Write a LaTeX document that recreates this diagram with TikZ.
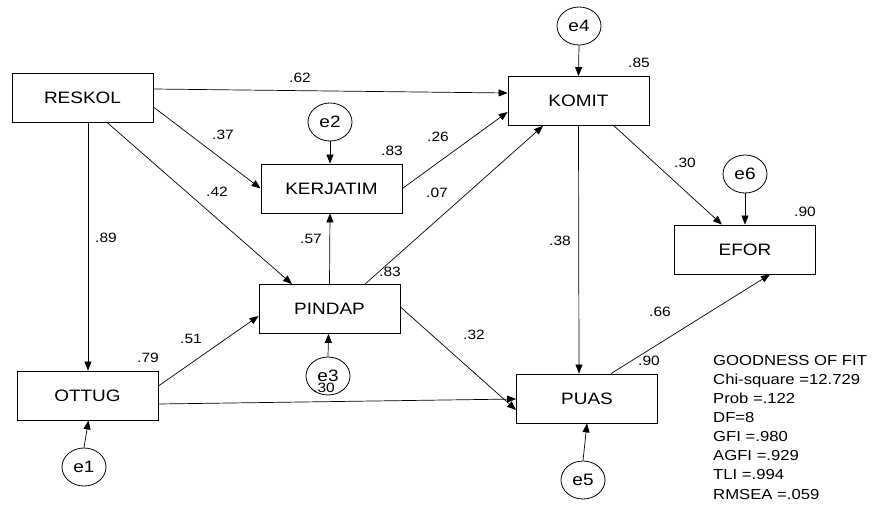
\documentclass[tikz,border=0pt]{standalone}
\usepackage{fontspec}
\setmainfont{Liberation Sans}[FakeStretch=1.15]
\usetikzlibrary{arrows.meta,shapes.geometric,calc}
\begin{document}
\begin{tikzpicture}[x=1pt,y=-1pt,
  var/.style={draw,line width=0.8pt,minimum width=141pt,minimum height=49pt,inner sep=0pt,font=\fontsize{16.5}{19}\selectfont},
  err/.style={draw,ellipse,line width=0.8pt,minimum width=44pt,minimum height=38pt,inner sep=0pt,font=\fontsize{16.5}{19}\selectfont},
  path/.style={line width=0.7pt,-{Triangle[length=9pt,width=7pt]}},
  coef/.style={inner sep=0pt,font=\fontsize{13.5}{15}\selectfont},
  gof/.style={inner sep=0pt,align=left,font=\fontsize{14.5}{19.1}\selectfont}]
\useasboundingbox (0,0) rectangle (877,506);
% observed variables
\node[var] (reskol) at (82.5,97.5) {RESKOL};
\node[var] (kerja) at (331.5,188.5) {KERJATIM};
\node[var] (komit) at (578.5,101) {KOMIT};
\node[var] (efor) at (745,249.5) {EFOR};
\node[var] (pindap) at (329.5,309) {PINDAP};
\node[var] (ottug) at (87.5,395.5) {OTTUG};
\node[var] (puas) at (587,398.5) {PUAS};
% error terms
\node[err] (e4) at (579,26) {e4};
\node[err] (e2) at (330,122) {e2};
\node[err] (e6) at (745,174) {e6};
\node[err] (e3) at (328,376) {e3};
\node[err] (e1) at (84,467) {e1};
\node[err] (e5) at (583,480) {e5};
% paths
\draw[path] ([yshift=8.5pt]reskol.east) -- ([yshift=8pt]komit.west);
\draw[path] ([yshift=-9.5pt]reskol.east) -- (kerja.west);
\draw[path] ([xshift=24.5pt]reskol.south) -- ([xshift=-37.5pt]pindap.north);
\draw[path] ([xshift=5.5pt]reskol.south) -- ([xshift=0.5pt]ottug.north);
\draw[path] (kerja.east) -- ([yshift=-11pt]komit.west);
\draw[path] ([xshift=35.5pt]pindap.north) -- ([xshift=-35.5pt]komit.south);
\draw[path] (pindap.north) -- ([xshift=-1.5pt]kerja.south);
\draw[path] (komit.south) -- ([xshift=-8pt]puas.north);
\draw[path] ([xshift=35.5pt]komit.south) -- ([xshift=-23pt]efor.north);
\draw[path] ([xshift=24pt]puas.north) -- ([xshift=25pt]efor.south);
\draw[path] ([yshift=9.5pt]ottug.east) -- ([yshift=-7pt]pindap.west);
\draw[path] ([yshift=-8.5pt]ottug.east) -- ([yshift=-0.5pt]puas.west);
\draw[path] ([yshift=2pt]pindap.east) -- ([yshift=-11.5pt]puas.west);
\draw[path] (e4.south) -- (komit.north);
\draw[path] (e2.south) -- ([xshift=-1.5pt]kerja.north);
\draw[path] (e6.south) -- (efor.north);
\draw[path] (e3.north) -- ([xshift=-1pt]pindap.south);
\draw[path] (e1.north) -- ([xshift=1pt]ottug.south);
\draw[path] (e5.north) -- (puas.south);
% coefficients
\node[coef] (c62) at (300,78) {.62};
\node[coef] (c37) at (223,135) {.37};
\node[coef] (c42) at (217,192) {.42};
\node[coef] (c89) at (106,238) {.89};
\node[coef] (c26) at (438,137) {.26};
\node[coef] (c07) at (437,193) {.07};
\node[coef] (c57) at (311,239) {.57};
\node[coef] (r83a) at (392,151) {.83};
\node[coef] (r83b) at (390,272) {.83};
\node[coef] (c51) at (191,339) {.51};
\node[coef] (r79) at (148,358) {.79};
\node[coef] (c32) at (474,335) {.32};
\node[coef] (r30) at (324,388) {.30};
\node[coef] (r90a) at (649,361) {.90};
\node[coef] (c66) at (660,312) {.66};
\node[coef] (r85) at (639,63) {.85};
\node[coef] (c30) at (685,163) {.30};
\node[coef] (r90b) at (805,212) {.90};
\node[coef] (c38) at (560,241) {.38};
% goodness of fit
\node[gof,anchor=north west] (fit) at (713,355) {GOODNESS OF FIT\\Chi-square =12.729\\Prob =.122\\DF=8\\GFI =.980\\AGFI =.929\\TLI =.994\\RMSEA =.059};
\end{tikzpicture}
\end{document}
